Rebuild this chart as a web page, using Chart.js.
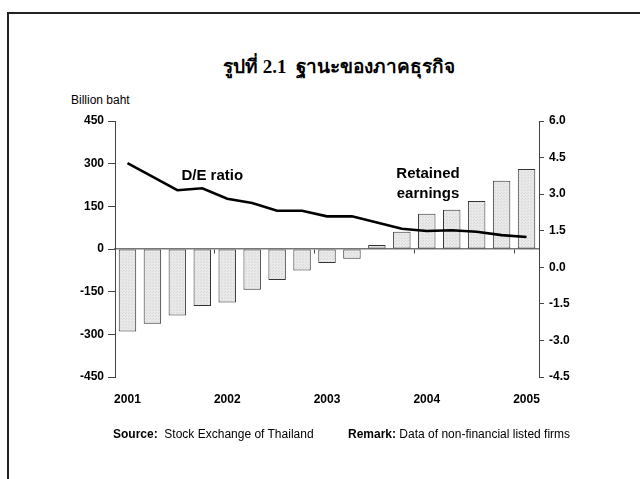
<!DOCTYPE html>
<html>
<head>
<meta charset="utf-8">
<script src="https://cdn.jsdelivr.net/npm/chart.js@4.4.1/dist/chart.umd.min.js"></script>
<style>
    body { margin: 0; background: #fff; }
    #page { position: relative; width: 640px; height: 479px; overflow: hidden; font-family: "Liberation Sans", Arial, sans-serif; }
    #frame { position: absolute; left: 7px; top: 12px; width: 700px; height: 520px; border-left: 2px solid #222; border-top: 2px solid #222; }
    #chartBox { position: absolute; left: 0; top: 0; width: 640px; height: 479px; }
    #title { position: absolute; left: 0; width: 678px; top: 51px; text-align: center; font-family: "Liberation Serif", "Times New Roman", serif; font-weight: bold; font-size: 19px; color: #000; }
    #unit { position: absolute; left: 71px; top: 93px; font-size: 12px; color: #000; }
    .note { position: absolute; top: 427px; font-size: 12px; color: #000; white-space: nowrap; }
</style>
</head>
<body>
<div id="page">
    <div id="frame"></div>
    <div id="title">รูปที่ 2.1&nbsp; ฐานะของภาคธุรกิจ</div>
    <div id="unit">Billion baht</div>
    <div id="chartBox"><canvas id="positionChart"></canvas></div>
    <div class="note" style="left:113px"><b>Source:</b>&nbsp; Stock Exchange of Thailand</div>
    <div class="note" style="left:348px"><b>Remark:</b> Data of non-financial listed firms</div>
</div>
<script>
// Données trimestrielles 2001Q1 - 2005Q1
const quarters = ['2001Q1', '2001Q2', '2001Q3', '2001Q4', '2002Q1', '2002Q2', '2002Q3', '2002Q4',
    '2003Q1', '2003Q2', '2003Q3', '2003Q4', '2004Q1', '2004Q2', '2004Q3', '2004Q4', '2005Q1'];
const yearLabels = ['2001', '2002', '2003', '2004', '2005'];
const retainedEarnings = [-290, -263, -234, -200, -188, -143, -109, -76, -49, -34, 14, 61, 124, 138, 169, 240, 281];
const deRatio = [4.27, 3.72, 3.16, 3.24, 2.81, 2.64, 2.32, 2.32, 2.09, 2.09, 1.84, 1.58, 1.49, 1.52, 1.46, 1.32, 1.24];
const leftTicks = [-450, -300, -150, 0, 150, 300, 450];
const rightTicks = [-4.5, -3.0, -1.5, 0.0, 1.5, 3.0, 4.5, 6.0];

// Libellés posés sur le graphique (index de catégorie, valeur sur l'axe droit)
const annotations = [
    { lines: ['D/E ratio'], at: 3.4, value: 3.74 },
    { lines: ['Retained', 'earnings'], at: 12.05, value: 3.82 }
];

document.addEventListener('DOMContentLoaded', function() {
    createPositionChart();
});

function makeDotPattern() {
    // trame pointillée gris clair des barres
    const c = document.createElement('canvas');
    c.width = 3;
    c.height = 3;
    const g = c.getContext('2d');
    g.fillStyle = '#e9e9e9';
    g.fillRect(0, 0, 3, 3);
    g.fillStyle = '#d8d8d8';
    g.fillRect(0, 0, 1, 1);
    g.fillRect(2, 1, 1, 1);
    return g.createPattern(c, 'repeat');
}

const labelPlugin = {
    id: 'seriesLabels',
    afterDatasetsDraw(chart) {
        const ctx = chart.ctx;
        const x = chart.scales.x;
        const y1 = chart.scales.y1;
        ctx.save();
        ctx.fillStyle = '#000';
        ctx.font = 'bold 15px "Liberation Sans", Arial, sans-serif';
        ctx.textAlign = 'center';
        ctx.textBaseline = 'middle';
        annotations.forEach(a => {
            const px = x.getPixelForDecimal((a.at + 0.5) / quarters.length);
            const py = y1.getPixelForValue(a.value);
            a.lines.forEach((t, i) => ctx.fillText(t, px, py + i * 20));
        });
        ctx.restore();
    }
};

function createPositionChart() {
    const ctx = document.getElementById('positionChart').getContext('2d');
    const tickFont = { family: '"Liberation Sans", Arial, sans-serif', size: 12, weight: 'bold' };

    new Chart(ctx, {
        type: 'bar',
        data: {
            labels: quarters,
            datasets: [
                {
                    type: 'line',
                    label: 'D/E ratio',
                    data: deRatio,
                    yAxisID: 'y1',
                    borderColor: '#000',
                    borderWidth: 2.6,
                    pointRadius: 0,
                    tension: 0,
                    order: 0
                },
                {
                    label: 'Retained earnings',
                    data: retainedEarnings,
                    yAxisID: 'y',
                    backgroundColor: makeDotPattern(),
                    borderColor: '#333',
                    borderWidth: 1,
                    borderSkipped: false,
                    categoryPercentage: 1.0,
                    barPercentage: 0.7,
                    order: 1
                }
            ]
        },
        options: {
            responsive: true,
            maintainAspectRatio: false,
            animation: false,
            layout: { padding: { top: 121, bottom: 72, left: 0, right: 41 } },
            plugins: {
                legend: { display: false },
                tooltip: { enabled: false }
            },
            scales: {
                x: {
                    position: 'bottom',
                    offset: true,
                    grid: { display: false, drawTicks: false },
                    border: { display: false },
                    ticks: {
                        autoSkip: false,
                        maxRotation: 0,
                        padding: 15,
                        color: '#000',
                        font: tickFont,
                        callback: function(value, index) {
                            return index % 4 === 0 ? yearLabels[index / 4] : '';
                        }
                    },
                    afterFit: function(scale) { scale.height = 30; }
                },
                x2: {
                    type: 'category',
                    position: { y: 0 },
                    offset: true,
                    grid: {
                        offset: true,
                        drawOnChartArea: false,
                        tickLength: 4,
                        color: function(c) {
                            return (c.index % 4 === 0 && c.index > 0 && c.index < quarters.length) ? '#444' : 'rgba(0,0,0,0)';
                        }
                    },
                    border: { color: '#777', width: 1.5 },
                    ticks: { display: false }
                },
                y: {
                    position: 'left',
                    min: leftTicks[0],
                    max: leftTicks[leftTicks.length - 1],
                    afterBuildTicks: function(scale) {
                        scale.ticks = leftTicks.map(v => ({ value: v }));
                    },
                    grid: { drawOnChartArea: false, tickLength: 7, color: '#444' },
                    border: { color: '#444', width: 1 },
                    ticks: { padding: 4, color: '#000', font: tickFont },
                    afterFit: function(scale) { scale.width = 115; }
                },
                y1: {
                    position: 'right',
                    min: rightTicks[0],
                    max: rightTicks[rightTicks.length - 1],
                    afterBuildTicks: function(scale) {
                        scale.ticks = rightTicks.map(v => ({ value: v }));
                    },
                    grid: { drawOnChartArea: false, tickLength: 5, color: '#444' },
                    border: { color: '#444', width: 1 },
                    ticks: {
                        padding: 5,
                        color: '#000',
                        font: tickFont,
                        callback: function(value) { return value.toFixed(1); }
                    },
                    afterFit: function(scale) { scale.width = 60; }
                }
            }
        },
        plugins: [labelPlugin]
    });
}
</script>
</body>
</html>
